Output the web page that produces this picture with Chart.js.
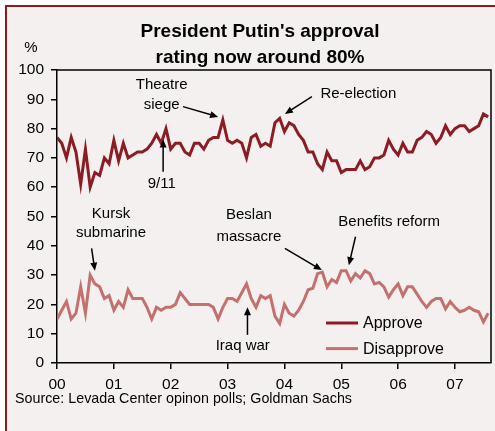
<!DOCTYPE html>
<html>
<head>
<meta charset="utf-8">
<script src="https://cdn.jsdelivr.net/npm/chart.js@4/dist/chart.umd.min.js"></script>
<style>
  html, body { margin: 0; padding: 0; background: #fff; }
  canvas { display: block; }
</style>
</head>
<body>
<canvas id="chart" width="495" height="431"></canvas>
<script>
// ===== DATA =====
// monthly polls, index 0 = Jan 2000
const approve = [
  77, 75, 70, 77, 72, 61, 73, 60, 65, 64, 70, 68,
  76, 69, 75, 70, 71, 72, 72, 73, 75, 78, 75, 80,
  73, 75, 75, 72, 71, 75, 75, 73, 76, 77, 77, 83,
  76, 75, 76, 75, 70, 77, 78, 74, 75, 74, 82, 83.5,
  79, 82, 81, 78, 76, 72, 72, 68, 66, 72, 69, 69,
  65, 66, 66, 66, 69, 66, 67, 70, 70, 71, 76, 73,
  71, 75, 72, 72, 76, 77, 79, 78, 75, 77, 81, 78,
  80, 81, 81, 79, 80, 81, 85, 84
];
const disapprove = [
  15, 18, 21, 15, 17, 26, 17, 30, 27, 26, 22, 23,
  18, 21, 19, 25, 22, 22, 22, 19, 15, 19, 18, 19,
  19, 20, 24, 22, 20, 20, 20, 20, 20, 19, 15, 19,
  22, 22, 21, 24, 27, 22, 19, 23, 22, 23, 16, 13.5,
  20, 17, 16, 18, 21, 25, 25.5, 30.5, 31, 26, 28.5, 27.5,
  31.5, 31.5, 28, 30.5, 29, 31.5, 30.5, 27, 27.5, 26, 22.5, 25,
  27, 23, 26, 26, 23.5, 21, 19, 21, 22, 22, 18.5, 21,
  19, 17.5, 18, 19, 18, 17.5, 14, 17
];
const yearLabels = ["00", "01", "02", "03", "04", "05", "06", "07"];
const seriesNames = ["Approve", "Disapprove"];
const titleLines = ["President Putin's approval", "rating now around 80%"];
const unitLabel = "%";
const sourceText = "Source: Levada Center opinon polls; Goldman Sachs";

// ===== ANNOTATIONS (month index, percent) =====
const notes = [
  { lines: [["Theatre", 95], ["siege", 88]], x: 22.1, from: [26.6, 87.5], to: [34, 84] },
  { lines: [["9/11", 61]], x: 22.1, from: [22.4, 65.3], to: [22.4, 76.3] },
  { lines: [["Re-election", 92]], x: 63.6, from: [53.8, 90.9], to: [48.1, 85] },
  { lines: [["Kursk", 51], ["submarine", 44.3]], x: 11.4, from: [7.3, 39.1], to: [8, 31.5] },
  { lines: [["Beslan", 50.5], ["massacre", 42.9]], x: 40.5, from: [48.1, 39.1], to: [55.9, 31.7] },
  { lines: [["Benefits reform", 48.2]], x: 70.1, from: [63, 43.1], to: [61.6, 33.4] },
  { lines: [["Iraq war", 5.9]], x: 39.2, from: [40.2, 9.6], to: [40.2, 19] }
];

// ===== STYLE =====
const FONT = "'Liberation Sans', Arial, sans-serif";
const approveColor = "#8c1c24";
const disapproveColor = "#c3716f";
const bgColor = "#f5f0f0";
const frameColor = "#8e1b20";

function arrow(ctx, x1, y1, x2, y2) {
  const a = Math.atan2(y2 - y1, x2 - x1);
  const len = 8, w = 3.5;
  ctx.beginPath();
  ctx.moveTo(x1, y1);
  ctx.lineTo(x2 - Math.cos(a) * len * 0.7, y2 - Math.sin(a) * len * 0.7);
  ctx.stroke();
  ctx.beginPath();
  ctx.moveTo(x2, y2);
  ctx.lineTo(x2 - len * Math.cos(a) + w * Math.sin(a), y2 - len * Math.sin(a) - w * Math.cos(a));
  ctx.lineTo(x2 - len * Math.cos(a) - w * Math.sin(a), y2 - len * Math.sin(a) + w * Math.cos(a));
  ctx.closePath();
  ctx.fill();
}

const decor = {
  id: "decor",
  beforeDraw(chart) {
    const ctx = chart.ctx;
    ctx.save();
    ctx.fillStyle = "#fff";
    ctx.fillRect(0, 0, chart.width, chart.height);
    ctx.fillStyle = bgColor;
    ctx.fillRect(7, 7, chart.width, chart.height);
    ctx.fillStyle = frameColor;
    ctx.fillRect(5, 5, 2, chart.height);
    ctx.fillRect(5, 5, chart.width, 2);
    ctx.restore();
  },
  afterDraw(chart) {
    const ctx = chart.ctx;
    const ca = chart.chartArea;
    const xs = chart.scales.x, ys = chart.scales.y;
    ctx.save();

    // top and right sides of the plot box
    ctx.strokeStyle = "#000";
    ctx.lineWidth = 1.5;
    ctx.beginPath();
    ctx.moveTo(ca.left, ca.top);
    ctx.lineTo(ca.right, ca.top);
    ctx.lineTo(ca.right, ca.bottom);
    ctx.stroke();

    // title
    ctx.fillStyle = "#000";
    ctx.textAlign = "center";
    ctx.textBaseline = "alphabetic";
    ctx.font = "bold 19px " + FONT;
    ctx.fillText(titleLines[0], 260, 36.5);
    ctx.fillText(titleLines[1], 260, 63);

    ctx.font = "15px " + FONT;
    ctx.fillText(unitLabel, 31, 52);

    ctx.textAlign = "left";
    ctx.font = "14.3px " + FONT;
    ctx.fillText(sourceText, 15, 402.5);

    // annotations
    ctx.font = "15px " + FONT;
    ctx.textAlign = "center";
    ctx.textBaseline = "middle";
    ctx.lineWidth = 1.5;
    notes.forEach((n) => {
      n.lines.forEach(([t, v]) => ctx.fillText(t, xs.getPixelForValue(n.x), ys.getPixelForValue(v)));
      arrow(ctx,
        xs.getPixelForValue(n.from[0]), ys.getPixelForValue(n.from[1]),
        xs.getPixelForValue(n.to[0]), ys.getPixelForValue(n.to[1]));
    });

    // legend
    const lx = ca.right - 165, ly = ca.bottom - 40;
    ctx.textAlign = "left";
    ctx.font = "16px " + FONT;
    [approveColor, disapproveColor].forEach((c, i) => {
      const y = ly + i * 25.6;
      ctx.strokeStyle = c;
      ctx.lineWidth = 3;
      ctx.beginPath();
      ctx.moveTo(lx, y);
      ctx.lineTo(lx + 32, y);
      ctx.stroke();
      ctx.fillStyle = "#000";
      ctx.fillText(seriesNames[i], lx + 37, y + 1);
    });
    ctx.restore();
  }
};

const tickFont = { family: FONT, size: 15.5 };
const axisGrid = { drawOnChartArea: false, drawTicks: true, tickLength: 6, color: "#000", lineWidth: 1.5 };

new Chart(document.getElementById("chart"), {
  type: "line",
  data: {
    datasets: [
      {
        label: seriesNames[0],
        data: approve.map((v, i) => ({ x: i, y: v })),
        borderColor: approveColor,
        borderWidth: 3,
        pointRadius: 0,
        tension: 0,
      },
      {
        label: seriesNames[1],
        data: disapprove.map((v, i) => ({ x: i, y: v })),
        borderColor: disapproveColor,
        borderWidth: 3,
        pointRadius: 0,
        tension: 0,
      },
    ],
  },
  options: {
    responsive: false,
    animation: false,
    devicePixelRatio: 1,
    layout: { padding: { top: 70, right: 4, bottom: 38, left: 0 } },
    plugins: {
      legend: { display: false },
      title: { display: false },
      tooltip: { enabled: false },
    },
    scales: {
      x: {
        type: "linear",
        min: 0,
        max: 91.6,
        afterFit: (s) => { s.height = 30; },
        ticks: {
          stepSize: 12,
          includeBounds: false,
          autoSkip: false,
          maxRotation: 0,
          padding: 6,
          color: "#000",
          font: tickFont,
          callback: (v) => yearLabels[Math.round(v / 12)],
        },
        grid: axisGrid,
        border: { color: "#000", width: 1.5 },
      },
      y: {
        min: 0,
        max: 100,
        afterFit: (s) => { s.width = 57; },
        ticks: { stepSize: 10, padding: 7, color: "#000", font: tickFont },
        grid: axisGrid,
        border: { color: "#000", width: 1.5 },
      },
    },
  },
  plugins: [decor],
});
</script>
</body>
</html>
